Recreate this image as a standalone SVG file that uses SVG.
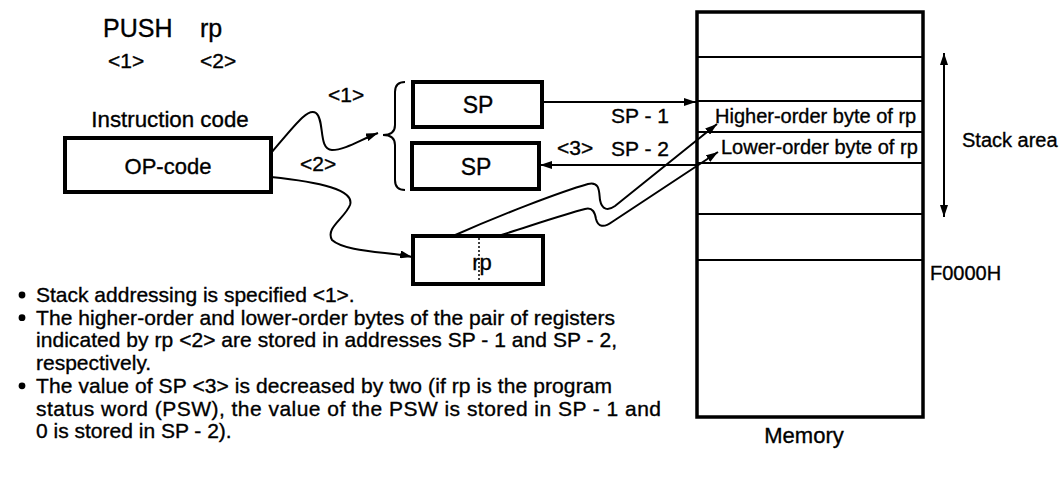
<svg xmlns="http://www.w3.org/2000/svg" width="1061" height="485" viewBox="0 0 1061 485">
<style>
text{font-family:"Liberation Sans",Arial,sans-serif;fill:#000;stroke:#000;stroke-width:0.35}
.box{fill:#fff;stroke:#000;stroke-width:4}
.mline{stroke:#000;stroke-width:2;fill:none}
.con{stroke:#000;stroke-width:2;fill:none}
.t21{font-size:21px}
.t20{font-size:20px}
.t22{font-size:22px}
.mid{text-anchor:middle}
</style>
<defs>
<marker id="ah" viewBox="0 0 12 8" refX="12" refY="4" markerWidth="12" markerHeight="8" markerUnits="userSpaceOnUse" orient="auto-start-reverse"><path d="M0,0 L12,4 L0,8 z" fill="#000"/></marker>
</defs>
<rect width="1061" height="485" fill="#fff"/>

<g id="title">
<text x="103" y="37" font-size="25">PUSH</text>
<text x="200" y="37" font-size="25">rp</text>
<text x="108" y="68" class="t21">&lt;1&gt;</text>
<text x="200" y="68" class="t21">&lt;2&gt;</text>
</g>

<g id="opcode">
<text x="170" y="127" class="mid" font-size="22.3">Instruction code</text>
<rect class="box" x="65" y="138" width="206" height="54"/>
<text x="168" y="174" class="t22 mid">OP-code</text>
</g>

<g id="sp1">
<rect class="box" x="413" y="82" width="129" height="45"/>
<text x="478" y="113" class="mid" font-size="23">SP</text>
</g>
<g id="sp2">
<rect class="box" x="412" y="143" width="127" height="46"/>
<text x="476" y="175" class="mid" font-size="23">SP</text>
</g>

<g id="rp">
<rect class="box" x="413" y="236" width="130" height="48"/>
<line x1="479" y1="238" x2="479" y2="282" stroke="#000" stroke-width="1.5" stroke-dasharray="2,2"/>
<text x="482" y="270" class="t22 mid">rp</text>
</g>

<g id="memory">
<rect x="697" y="12" width="226" height="405" fill="#fff" stroke="#000" stroke-width="3.5"/>
<line class="mline" x1="697" y1="57" x2="923" y2="57"/>
<line class="mline" x1="697" y1="101" x2="923" y2="101"/>
<line class="mline" x1="697" y1="132" x2="923" y2="132"/>
<line class="mline" x1="697" y1="163" x2="923" y2="163"/>
<line class="mline" x1="697" y1="214" x2="923" y2="214"/>
<line class="mline" x1="697" y1="260" x2="923" y2="260"/>
<text x="715" y="123" class="t20">Higher-order byte of rp</text>
<text x="721" y="154" class="t20">Lower-order byte of rp</text>
<text x="804" y="443" class="t22 mid">Memory</text>
<text x="930" y="280" class="t20">F0000H</text>
</g>

<g id="stack-area">
<line class="con" x1="944" y1="53" x2="944" y2="217" marker-start="url(#ah)" marker-end="url(#ah)"/>
<text x="962" y="147" class="t20">Stack area</text>
</g>

<g id="connectors">
<path class="con" d="M405,82 Q395,82 395,92 L395,125 Q395,135 383,135 Q395,135 395,145 L395,180 Q395,190 405,190"/>
<path class="con" d="M271,153 C295,125 308,107 316,113 C325,120 318,150 332,150 C345,150 360,140 378,133" marker-end="url(#ah)"/>
<path class="con" d="M271,177 C320,182 355,190 350,205 C345,218 325,228 332,240 C345,252 390,252 412,257" marker-end="url(#ah)"/>
<line class="con" x1="542" y1="102" x2="696" y2="102" marker-end="url(#ah)"/>
<line class="con" x1="697" y1="165" x2="540" y2="165" marker-end="url(#ah)"/>
<path class="con" d="M453,236 C500,215 560,192 588,184 C600,181 599,192 600,200 C602,210 608,211 615,206 L717,124" marker-end="url(#ah)"/>
<path class="con" d="M498,236 C530,226 565,214 585,209 C593,207 595,213 596,219 C598,227 604,228 612,222 L718,152" marker-end="url(#ah)"/>
<text x="328" y="102" class="t21">&lt;1&gt;</text>
<text x="300" y="171" class="t21">&lt;2&gt;</text>
<text x="557" y="155" class="t21">&lt;3&gt;</text>
<text x="611" y="123" class="t21">SP - 1</text>
<text x="611" y="156" class="t21">SP - 2</text>
</g>

<g id="notes" class="t21">
<circle cx="22" cy="295" r="3.4"/>
<text x="36" y="302">Stack addressing is specified &lt;1&gt;.</text>
<circle cx="22" cy="317.7" r="3.4"/>
<text x="36" y="324.7" textLength="579" lengthAdjust="spacing">The higher-order and lower-order bytes of the pair of registers</text>
<text x="36" y="347.4" textLength="581" lengthAdjust="spacing">indicated by rp &lt;2&gt; are stored in addresses SP - 1 and SP - 2,</text>
<text x="36" y="370.1">respectively.</text>
<circle cx="22" cy="385.8" r="3.4"/>
<text x="36" y="392.8" textLength="576" lengthAdjust="spacing">The value of SP &lt;3&gt; is decreased by two (if rp is the program</text>
<text x="36" y="415.5" textLength="625" lengthAdjust="spacing">status word (PSW), the value of the PSW is stored in SP - 1 and</text>
<text x="36" y="438.2">0 is stored in SP - 2).</text>
</g>
</svg>
